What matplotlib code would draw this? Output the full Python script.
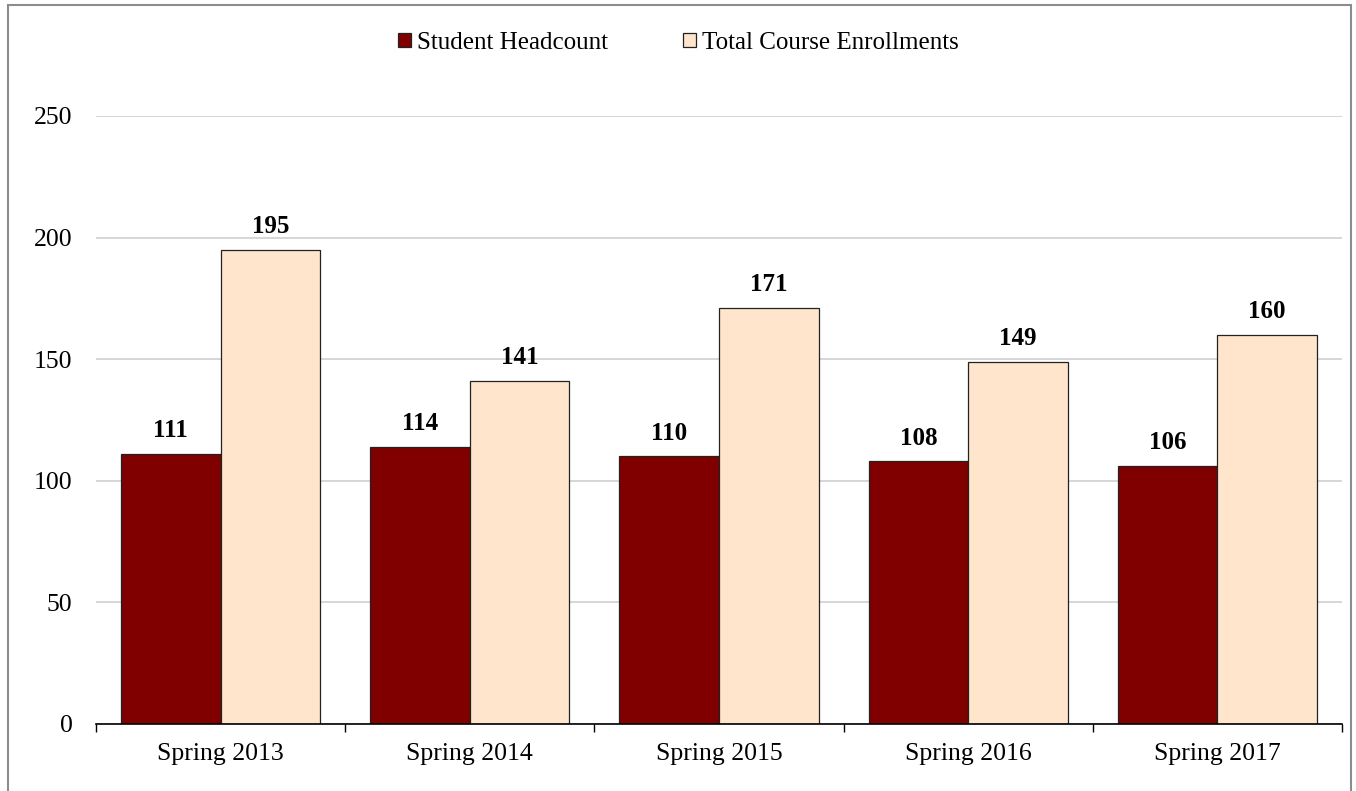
import numpy as np
import matplotlib
matplotlib.use('Agg')
from matplotlib import pyplot as plt
from matplotlib.patches import Rectangle

plt.rcParams['font.family'] = ['Liberation Serif', 'DejaVu Serif']

# 数据
terms = ['Spring 2013', 'Spring 2014', 'Spring 2015', 'Spring 2016', 'Spring 2017']
headcount = [111, 114, 110, 108, 106]
enrollments = [195, 141, 171, 149, 160]
series_names = ['Student Headcount', 'Total Course Enrollments']
y_ticks = [0, 50, 100, 150, 200, 250]

fig = plt.figure(figsize=(13.56, 7.91), dpi=100)
ax = fig.add_axes([96 / 1356, 1 - 724 / 791, (1342 - 96) / 1356, (724 - 116) / 791])

# 外框
fig.patches.append(Rectangle((8 / 1356, -0.05), (1351 - 8) / 1356, 1.05 - 5 / 791,
                             transform=fig.transFigure, fill=False,
                             edgecolor='#8c8c8c', linewidth=1.5))

x = np.arange(len(terms))
w = 0.4
b1 = ax.bar(x - w / 2, headcount, w, color='#800000', edgecolor='#222222',
            linewidth=0.9, label=series_names[0], zorder=3)
b2 = ax.bar(x + w / 2, enrollments, w, color='#FFE5CC', edgecolor='#222222',
            linewidth=0.9, label=series_names[1], zorder=3)

# 数值标签
for bars, vals in [(b1, headcount), (b2, enrollments)]:
    for rect, v in zip(bars, vals):
        ax.annotate(str(v), (rect.get_x() + rect.get_width() / 2, v),
                    xytext=(0, 8.5), textcoords='offset points',
                    ha='center', va='bottom', fontsize=18, fontweight='bold')

ax.set_xlim(-0.5, len(terms) - 0.5)
ax.set_ylim(0, 250)
ax.set_yticks(y_ticks)
ax.set_yticklabels([str(t) for t in y_ticks])
ax.tick_params(axis='y', length=0, pad=17, labelsize=18.5)

ax.set_xticks(x)
ax.set_xticklabels(terms)
ax.set_xticks(np.arange(len(terms) + 1) - 0.5, minor=True)
ax.tick_params(axis='x', which='major', length=0, pad=13.5, labelsize=18.5)
ax.tick_params(axis='x', which='minor', length=6, width=1, direction='out', color='black')

ax.yaxis.grid(True, color='#cfcfcf', linewidth=1.2, zorder=0)
for s in ['top', 'right', 'left']:
    ax.spines[s].set_visible(False)
ax.spines['bottom'].set_color('black')
ax.spines['bottom'].set_linewidth(1.2)
ax.spines['bottom'].set_zorder(4)

fig.legend(handles=[b1, b2], labels=series_names, loc='center',
           bbox_to_anchor=(678 / 1356, 1 - 43 / 791), ncol=2, frameon=False,
           fontsize=18, handlelength=0.52, handleheight=0.52, handletextpad=0.24,
           columnspacing=3.0)

plt.savefig('out.png', dpi=100)
plt.close()
